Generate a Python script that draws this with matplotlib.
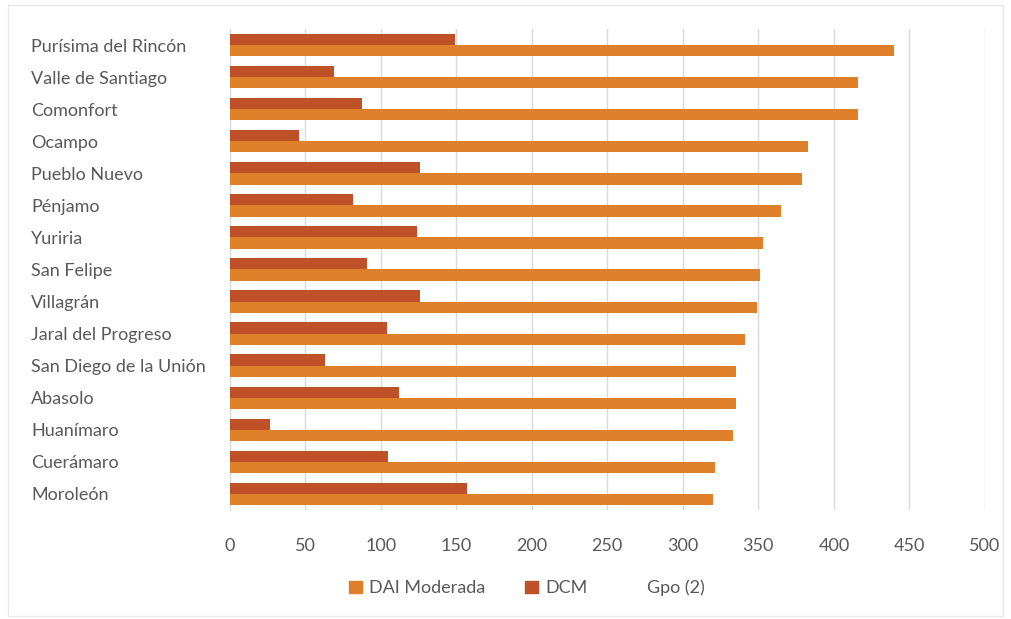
import numpy as np
import matplotlib
matplotlib.use("Agg")
import matplotlib.pyplot as plt
from matplotlib.patches import Patch

# データ（上から順に）
municipios = ["Purísima del Rincón", "Valle de Santiago", "Comonfort", "Ocampo",
              "Pueblo Nuevo", "Pénjamo", "Yuriria", "San Felipe", "Villagrán",
              "Jaral del Progreso", "San Diego de la Unión", "Abasolo",
              "Huanímaro", "Cuerámaro", "Moroleón"]
dai_moderada = [440, 416, 416, 383, 379, 365, 353, 351, 349, 341, 335, 335, 333, 321, 320]
dcm = [149, 69, 88, 46, 126, 82, 124, 91, 126, 104, 63, 112, 27, 105, 157]
xticks = [0, 50, 100, 150, 200, 250, 300, 350, 400, 450, 500]

color_dai = "#E07F29"
color_dcm = "#BE5128"
text_color = "#595959"
fs = 13

plt.rcParams["font.family"] = ["Lato", "DejaVu Sans"]

fig = plt.figure(figsize=(10.11, 6.19), dpi=100)
ax = fig.add_axes([229.5 / 1011, 1 - 510 / 619, (985 - 229.5) / 1011, (510 - 29) / 619])

y = np.arange(len(municipios))
h = 0.35
ax.barh(y + h / 2, dai_moderada, height=h, color=color_dai, label="DAI Moderada", zorder=3)
ax.barh(y - h / 2, dcm, height=h, color=color_dcm, label="DCM", zorder=3)

ax.set_ylim(len(municipios) - 0.5, -0.5)
ax.set_xlim(0, 500)
ax.set_yticks(y)
ax.set_yticklabels(municipios, fontsize=fs, color=text_color)
ax.set_xticks(xticks)
ax.set_xticklabels([str(v) for v in xticks], fontsize=fs, color=text_color)
# 左揃えのラベル（px -> pt）
ax.tick_params(axis="y", length=0, pad=(229.5 - 31) * 72 / 100)
ax.tick_params(axis="x", length=0, pad=20)
for lbl in ax.get_yticklabels():
    lbl.set_horizontalalignment("left")

ax.grid(axis="x", color="#D9D9D9", linewidth=1, zorder=0)
for s in ax.spines.values():
    s.set_visible(False)

handles = [Patch(color=color_dai), Patch(color=color_dcm), Patch(color="white", alpha=0)]
fig.legend(handles, ["DAI Moderada", "DCM", "Gpo (2)"], loc="center",
           bbox_to_anchor=(527 / 1011, 1 - 588 / 619), ncol=3, frameon=False,
           fontsize=fs, labelcolor=text_color, handlelength=0.7, handleheight=0.7,
           handletextpad=0.4, columnspacing=2.2)

# 外枠
fig.patches.append(plt.Rectangle((8 / 1011, 0.005), 1 - 16 / 1011, 1 - 5 / 619 - 0.005,
                                 transform=fig.transFigure, fill=False,
                                 edgecolor="#E8E8E8", linewidth=1))

fig.savefig("out.png", dpi=100)
